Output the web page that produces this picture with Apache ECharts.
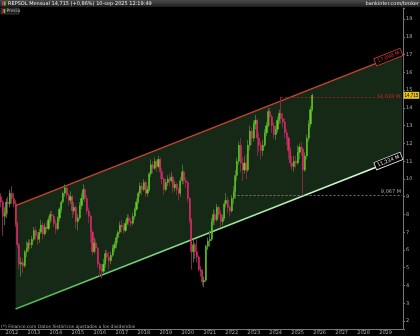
<!DOCTYPE html>
<html>
<head>
<meta charset="utf-8">
<script src="https://cdn.jsdelivr.net/npm/echarts@6/dist/echarts.min.js"></script>
<style>html,body{margin:0;padding:0;background:#000;}#c{width:420px;height:336px;}</style>
</head>
<body>
<div id="c"></div>
<script>
// Monthly candles Jul 2011 .. Sep 2025 (dividend-adjusted)
const firstYear = 2011, firstMonth = 7, totalMonths = 220; // axis runs to Oct 2029
const opens = [
9.0,8.7,7.9,8.1,8.7,8.6,
9.2,8.9,8.6,7.5,6.3,5.2,5.3,5.1,5.9,6.1,6.4,6.3,
6.6,7.1,6.8,6.6,7.0,7.4,6.9,7.3,7.2,7.7,8.0,7.9,
7.5,7.2,7.8,8.3,8.7,9.2,9.5,9.1,8.8,9.0,8.2,8.4,
7.6,7.8,8.5,8.9,9.4,8.9,8.2,7.9,7.0,5.9,6.4,6.1,
5.2,4.9,4.8,5.2,5.8,5.6,5.4,5.7,6.1,6.3,6.7,7.0,
7.4,7.3,7.1,7.5,7.8,7.6,7.5,7.9,8.3,8.7,9.2,9.6,
9.4,9.8,9.2,9.4,10.3,10.8,10.6,11.0,10.7,11.1,10.4,10.0,
9.4,9.8,10.0,9.9,10.1,9.5,9.7,9.4,9.2,9.9,10.4,9.9,
9.8,8.9,7.7,5.9,6.3,5.9,5.6,4.9,4.8,4.2,4.3,6.2,
6.5,6.6,7.6,8.0,7.7,8.4,8.0,7.6,7.8,8.6,8.8,8.4,
8.2,8.9,9.3,10.2,11.0,11.9,10.9,10.5,10.9,10.5,11.9,12.7,
12.3,13.1,13.3,12.3,11.9,11.6,11.9,12.6,13.0,13.8,13.5,13.0,
12.5,12.8,13.3,13.7,13.4,13.2,12.6,12.3,11.6,10.9,10.7,11.0,
10.9,11.5,11.8,11.7,10.5,11.3,12.3,13.1,13.9
];
const closes = [
8.7,7.9,8.1,8.7,8.6,9.2,
8.9,8.6,7.5,6.3,5.2,5.3,5.1,5.9,6.1,6.4,6.3,6.6,
7.1,6.8,6.6,7.0,7.4,6.9,7.3,7.2,7.7,8.0,7.9,7.5,
7.2,7.8,8.3,8.7,9.2,9.5,9.1,8.8,9.0,8.2,8.4,7.6,
7.8,8.5,8.9,9.4,8.9,8.2,7.9,7.0,5.9,6.4,6.1,5.2,
4.9,4.8,5.2,5.8,5.6,5.4,5.7,6.1,6.3,6.7,7.0,7.4,
7.3,7.1,7.5,7.8,7.6,7.5,7.9,8.3,8.7,9.2,9.6,9.4,
9.8,9.2,9.4,10.3,10.8,10.6,11.0,10.7,11.1,10.4,10.0,9.4,
9.8,10.0,9.9,10.1,9.5,9.7,9.4,9.2,9.9,10.4,9.9,9.8,
8.9,7.7,5.9,6.3,5.9,5.6,4.9,4.8,4.2,4.3,6.2,6.5,
6.6,7.6,8.0,7.7,8.4,8.0,7.6,7.8,8.6,8.8,8.4,8.2,
8.9,9.3,10.2,11.0,11.9,10.9,10.5,10.9,10.5,11.9,12.7,12.3,
13.1,13.3,12.3,11.9,11.6,11.9,12.6,13.0,13.8,13.5,13.0,12.5,
12.8,13.3,13.7,13.4,13.2,12.6,12.3,11.6,10.9,10.7,11.0,10.9,
11.5,11.8,11.7,10.5,11.3,12.3,13.1,13.9,14.715
];
const lows = [
8.4,6.8,7.4,7.8,8.0,8.4,
8.6,8.4,7.3,6.1,4.9,4.5,4.7,5.0,5.6,5.9,6.0,6.1,
6.5,6.6,6.3,6.4,6.9,6.6,6.8,7.0,7.1,7.5,7.6,7.3,
6.9,7.1,7.6,8.1,8.6,9.0,8.9,8.5,8.6,7.8,8.0,7.2,
7.1,7.7,8.3,8.8,8.7,8.0,7.5,6.4,5.7,5.8,5.9,5.0,
4.5,4.4,4.7,5.0,5.4,4.9,5.2,5.6,5.9,6.1,6.4,6.9,
7.0,6.9,7.0,7.4,7.4,7.3,7.4,7.7,8.2,8.6,9.0,9.1,
9.3,9.0,9.0,9.3,10.1,10.3,10.5,10.4,10.6,10.0,9.7,9.1,
9.3,9.6,9.6,9.8,9.2,9.3,9.1,8.8,9.0,9.7,9.7,9.5,
8.7,7.5,4.9,5.3,5.5,5.3,4.8,4.5,4.0,3.9,4.2,6.0,
6.2,6.5,7.4,7.4,7.6,7.8,7.3,7.4,7.7,8.4,8.1,7.9,
8.1,8.6,8.9,9.9,10.8,10.4,9.9,10.3,10.0,10.4,11.6,11.9,
12.1,12.8,11.3,11.5,11.1,11.3,11.8,12.4,12.9,13.0,12.6,12.3,
12.2,12.6,13.1,13.1,12.9,12.3,11.9,11.1,10.7,10.5,10.4,10.6,
10.8,11.1,11.3,9.067,10.4,11.1,12.1,12.9,13.8
];
const highs = [
9.2,8.8,8.4,8.9,9.0,9.4,
9.6,9.2,8.8,7.6,6.4,5.6,5.5,6.0,6.5,6.6,6.6,6.8,
7.3,7.3,7.0,7.2,7.7,7.6,7.5,7.6,7.9,8.2,8.2,8.0,
7.7,7.9,8.4,8.8,9.3,9.7,9.6,9.2,9.3,9.1,8.7,8.5,
8.0,8.7,9.2,9.7,9.5,9.1,8.4,8.0,7.1,6.7,6.6,6.2,
5.3,5.2,5.5,6.0,6.0,5.9,5.9,6.3,6.5,6.9,7.1,7.6,
7.7,7.5,7.7,8.0,8.0,7.8,8.1,8.4,8.9,9.3,9.8,9.8,
10.0,9.9,9.6,10.4,11.1,11.0,11.2,11.1,11.3,11.2,10.6,10.1,
10.0,10.2,10.3,10.4,10.2,9.9,9.8,9.5,10.1,10.8,10.5,10.1,
9.9,9.0,7.8,6.6,6.4,6.6,5.7,5.1,4.9,4.5,6.3,6.7,
7.1,7.8,8.3,8.2,8.6,8.5,8.2,8.0,8.8,9.2,9.0,8.5,
9.1,9.6,10.5,11.2,12.1,12.3,11.2,11.3,11.4,12.2,13.0,12.9,
13.3,13.6,13.4,12.6,12.1,12.2,12.8,13.2,14.0,14.0,13.6,13.2,
13.0,13.5,13.9,14.618,13.7,13.4,12.8,12.4,11.8,11.3,11.3,11.3,
11.9,12.0,12.1,11.8,11.5,12.5,13.3,14.1,14.8
];
// Channel (trend lines) anchor points: [category index, value]
const channelStartIdx = 8, channelEndIdx = 219;
const upperLine = [8.5, 17.09];
const lowerLine = [2.68, 11.234];
const upperLabel = '17,090 M';
const lowerLabel = '11,234 M';
// Horizontal levels
const resistance = {from: 153, value: 14.618, label: '14,618 M'};
const support = {from: 127, value: 9.067, label: '9,067 M'};
const lastPrice = 14.715, lastPriceLabel = '14,715';

const months = [];
{ let y = firstYear, m = firstMonth;
  for (let i = 0; i < totalMonths; i++) {
    months.push(y + '-' + String(m).padStart(2, '0'));
    m++; if (m > 12) { m = 1; y++; }
  } }

const UP = '#62d024', DOWN = '#ec2a6e';
const UPW = '#3e7424', DOWNW = '#7e2a44';
const FONT = '"DejaVu Sans", sans-serif';

const wickData = opens.map((o, i) => [o, closes[i], lows[i], highs[i]]);
const bodyData = opens.map((o, i) => [o, closes[i], Math.min(o, closes[i]), Math.max(o, closes[i])]);

const chart = echarts.init(document.getElementById('c'), null, {renderer: 'canvas'});
const isJan = (idx, val) => String(val).endsWith('-01');

const staticGraphics = [
  {type: 'rect', z: 10, shape: {x: 0, y: 0, width: 420, height: 7},
   style: {fill: {type: 'linear', x: 0, y: 0, x2: 0, y2: 1, colorStops: [{offset: 0, color: '#4a4a4a'}, {offset: 1, color: '#1e1e1e'}]}}},
  {type: 'rect', z: 11, shape: {x: 2, y: 1.5, width: 1.6, height: 4}, style: {fill: DOWN}},
  {type: 'rect', z: 11, shape: {x: 4, y: 1.5, width: 1.6, height: 4}, style: {fill: UP}},
  {type: 'text', z: 11, style: {text: 'REPSOL Mensual 14,715 (+0,86%) 10-sep-2025 12:19:49', x: 8, y: 3.7,
    verticalAlign: 'middle', fill: '#eee', font: '5px ' + FONT}},
  {type: 'text', z: 11, style: {text: 'bankinter.com/broker', x: 419, y: 3.7, align: 'right',
    verticalAlign: 'middle', fill: '#eee', font: '5px ' + FONT}},
  {type: 'rect', z: 11, shape: {x: 1, y: 8, width: 18, height: 6}, style: {fill: '#1a1a1a', stroke: '#555', lineWidth: 0.6}},
  {type: 'rect', z: 12, shape: {x: 2.5, y: 9, width: 1.3, height: 4}, style: {fill: DOWN}},
  {type: 'rect', z: 12, shape: {x: 4, y: 9, width: 1.3, height: 4}, style: {fill: UP}},
  {type: 'text', z: 12, style: {text: 'Precio', x: 6.5, y: 11, verticalAlign: 'middle', fill: '#ccc', font: '4.5px ' + FONT}},
  {type: 'text', z: 11, style: {text: '(*) Finance.com Datos históricos ajustados a los dividendos', x: 1, y: 326.5,
    verticalAlign: 'middle', fill: '#aaa', font: '4.5px ' + FONT}}
];

chart.setOption({
  backgroundColor: '#000',
  animation: false,
  grid: {left: 0, right: 17, top: 8, bottom: 7, containLabel: false},
  xAxis: {
    type: 'category', data: months, boundaryGap: true,
    axisLine: {show: true, lineStyle: {color: '#777', width: 1}},
    axisTick: {show: true, interval: isJan, alignWithLabel: true, length: 2, lineStyle: {color: '#777'}},
    axisLabel: {interval: isJan, formatter: v => v.slice(0, 4), color: '#aaa', fontSize: 5, fontFamily: FONT, margin: 1},
    splitLine: {show: false}
  },
  yAxis: {
    type: 'value', position: 'right', min: 1.549, max: 19.63, splitNumber: 18, scale: true,
    axisLine: {show: true, lineStyle: {color: '#777', width: 1}},
    axisTick: {show: true, length: 2, lineStyle: {color: '#777'}},
    axisLabel: {color: '#aaa', fontSize: 5, fontFamily: FONT, margin: 3,
      formatter: v => (Math.abs(v - Math.round(v)) < 1e-6 ? String(Math.round(v)) : '')},
    splitLine: {show: false}
  },
  series: [
    {
      type: 'custom', name: 'channelFill', z: 1, silent: true, clip: false,
      encode: {x: 0, y: 2},
      data: [[channelStartIdx, channelEndIdx, lowerLine[0], upperLine[0], lowerLine[1], upperLine[1]]],
      renderItem: (params, api) => {
        const a = api.coord([api.value(0), api.value(2)]);
        const b = api.coord([api.value(0), api.value(3)]);
        const c = api.coord([api.value(1), api.value(5)]);
        const d = api.coord([api.value(1), api.value(4)]);
        return {type: 'polygon', shape: {points: [a, b, c, d]}, style: {fill: '#162916'}};
      }
    },
    {
      type: 'line', name: 'upper', z: 2, silent: true, showSymbol: false,
      lineStyle: {color: '#c4432c', width: 1.5},
      data: [[months[channelStartIdx], upperLine[0]], [months[channelEndIdx], upperLine[1]]]
    },
    {
      type: 'line', name: 'lower', z: 2, silent: true, showSymbol: false,
      lineStyle: {width: 1.6, color: {type: 'linear', x: 0, y: 0, x2: 1, y2: 0,
        colorStops: [{offset: 0, color: '#49b04a'}, {offset: 0.5, color: '#8fe08f'}, {offset: 1, color: '#e6ffe6'}]}},
      data: [[months[channelStartIdx], lowerLine[0]], [months[channelEndIdx], lowerLine[1]]]
    },
    {
      type: 'candlestick', name: 'wicks', z: 3, silent: true, barWidth: 1,
      itemStyle: {color: UPW, color0: DOWNW, borderColor: UPW, borderColor0: DOWNW, borderWidth: 1},
      data: wickData
    },
    {
      type: 'candlestick', name: 'Precio', z: 4, silent: true, barWidth: 1.6,
      itemStyle: {color: UP, color0: DOWN, borderColor: UP, borderColor0: DOWN, borderWidth: 0.4},
      data: bodyData,
      markLine: {
        silent: true, symbol: 'none', animation: false,
        data: [
          [{coord: [months[resistance.from], resistance.value],
            lineStyle: {color: '#a82222', type: [2, 2], width: 0.8},
            label: {show: true, position: 'insideEnd', distance: 1, formatter: resistance.label,
              color: '#d02828', fontSize: 5, fontFamily: FONT, backgroundColor: '#162916', padding: [0, 1]}},
           {coord: [months[totalMonths - 1], resistance.value]}],
          [{coord: [months[support.from], support.value],
            lineStyle: {color: '#8a8a8a', type: [2, 2], width: 0.8},
            label: {show: true, position: 'insideEndTop', distance: 1, formatter: support.label,
              color: '#aaa', fontSize: 5, fontFamily: FONT}},
           {coord: [months[totalMonths - 1], support.value]}],
          {yAxis: lastPrice, lineStyle: {color: 'rgba(0,0,0,0)', width: 0},
           label: {show: true, position: 'end', distance: 0.5, formatter: lastPriceLabel,
             color: '#000', fontSize: 4.5, fontFamily: '"Liberation Sans Narrow", "Liberation Sans", sans-serif',
             backgroundColor: '#e6c21a', padding: [1, 1]}}
        ]
      }
    }
  ],
  graphic: staticGraphics
});

// Rotated labels at the right end of each channel line, placed via the chart's own scales
function channelLabel(val, text, color, border) {
  const p = chart.convertToPixel({seriesIndex: 1}, [months[channelEndIdx], val]);
  const p0 = chart.convertToPixel({seriesIndex: 1}, [months[channelStartIdx], val - (upperLine[1] - upperLine[0])]);
  const ang = Math.atan2(p0[1] - p[1], p[0] - p0[0]);
  return {type: 'text', z: 20, x: p[0] - 1, y: p[1] - 1, rotation: ang,
    style: {text: text, align: 'right', verticalAlign: 'middle', fill: color, font: '5px ' + FONT,
      backgroundColor: '#000', borderColor: border, borderWidth: 0.8, padding: [1, 2]}};
}
chart.setOption({graphic: staticGraphics.concat([
  channelLabel(upperLine[1], upperLabel, '#e03a3a', '#c4432c'),
  channelLabel(lowerLine[1], lowerLabel, '#eeeeee', '#dddddd')
])});
</script>
</body>
</html>
